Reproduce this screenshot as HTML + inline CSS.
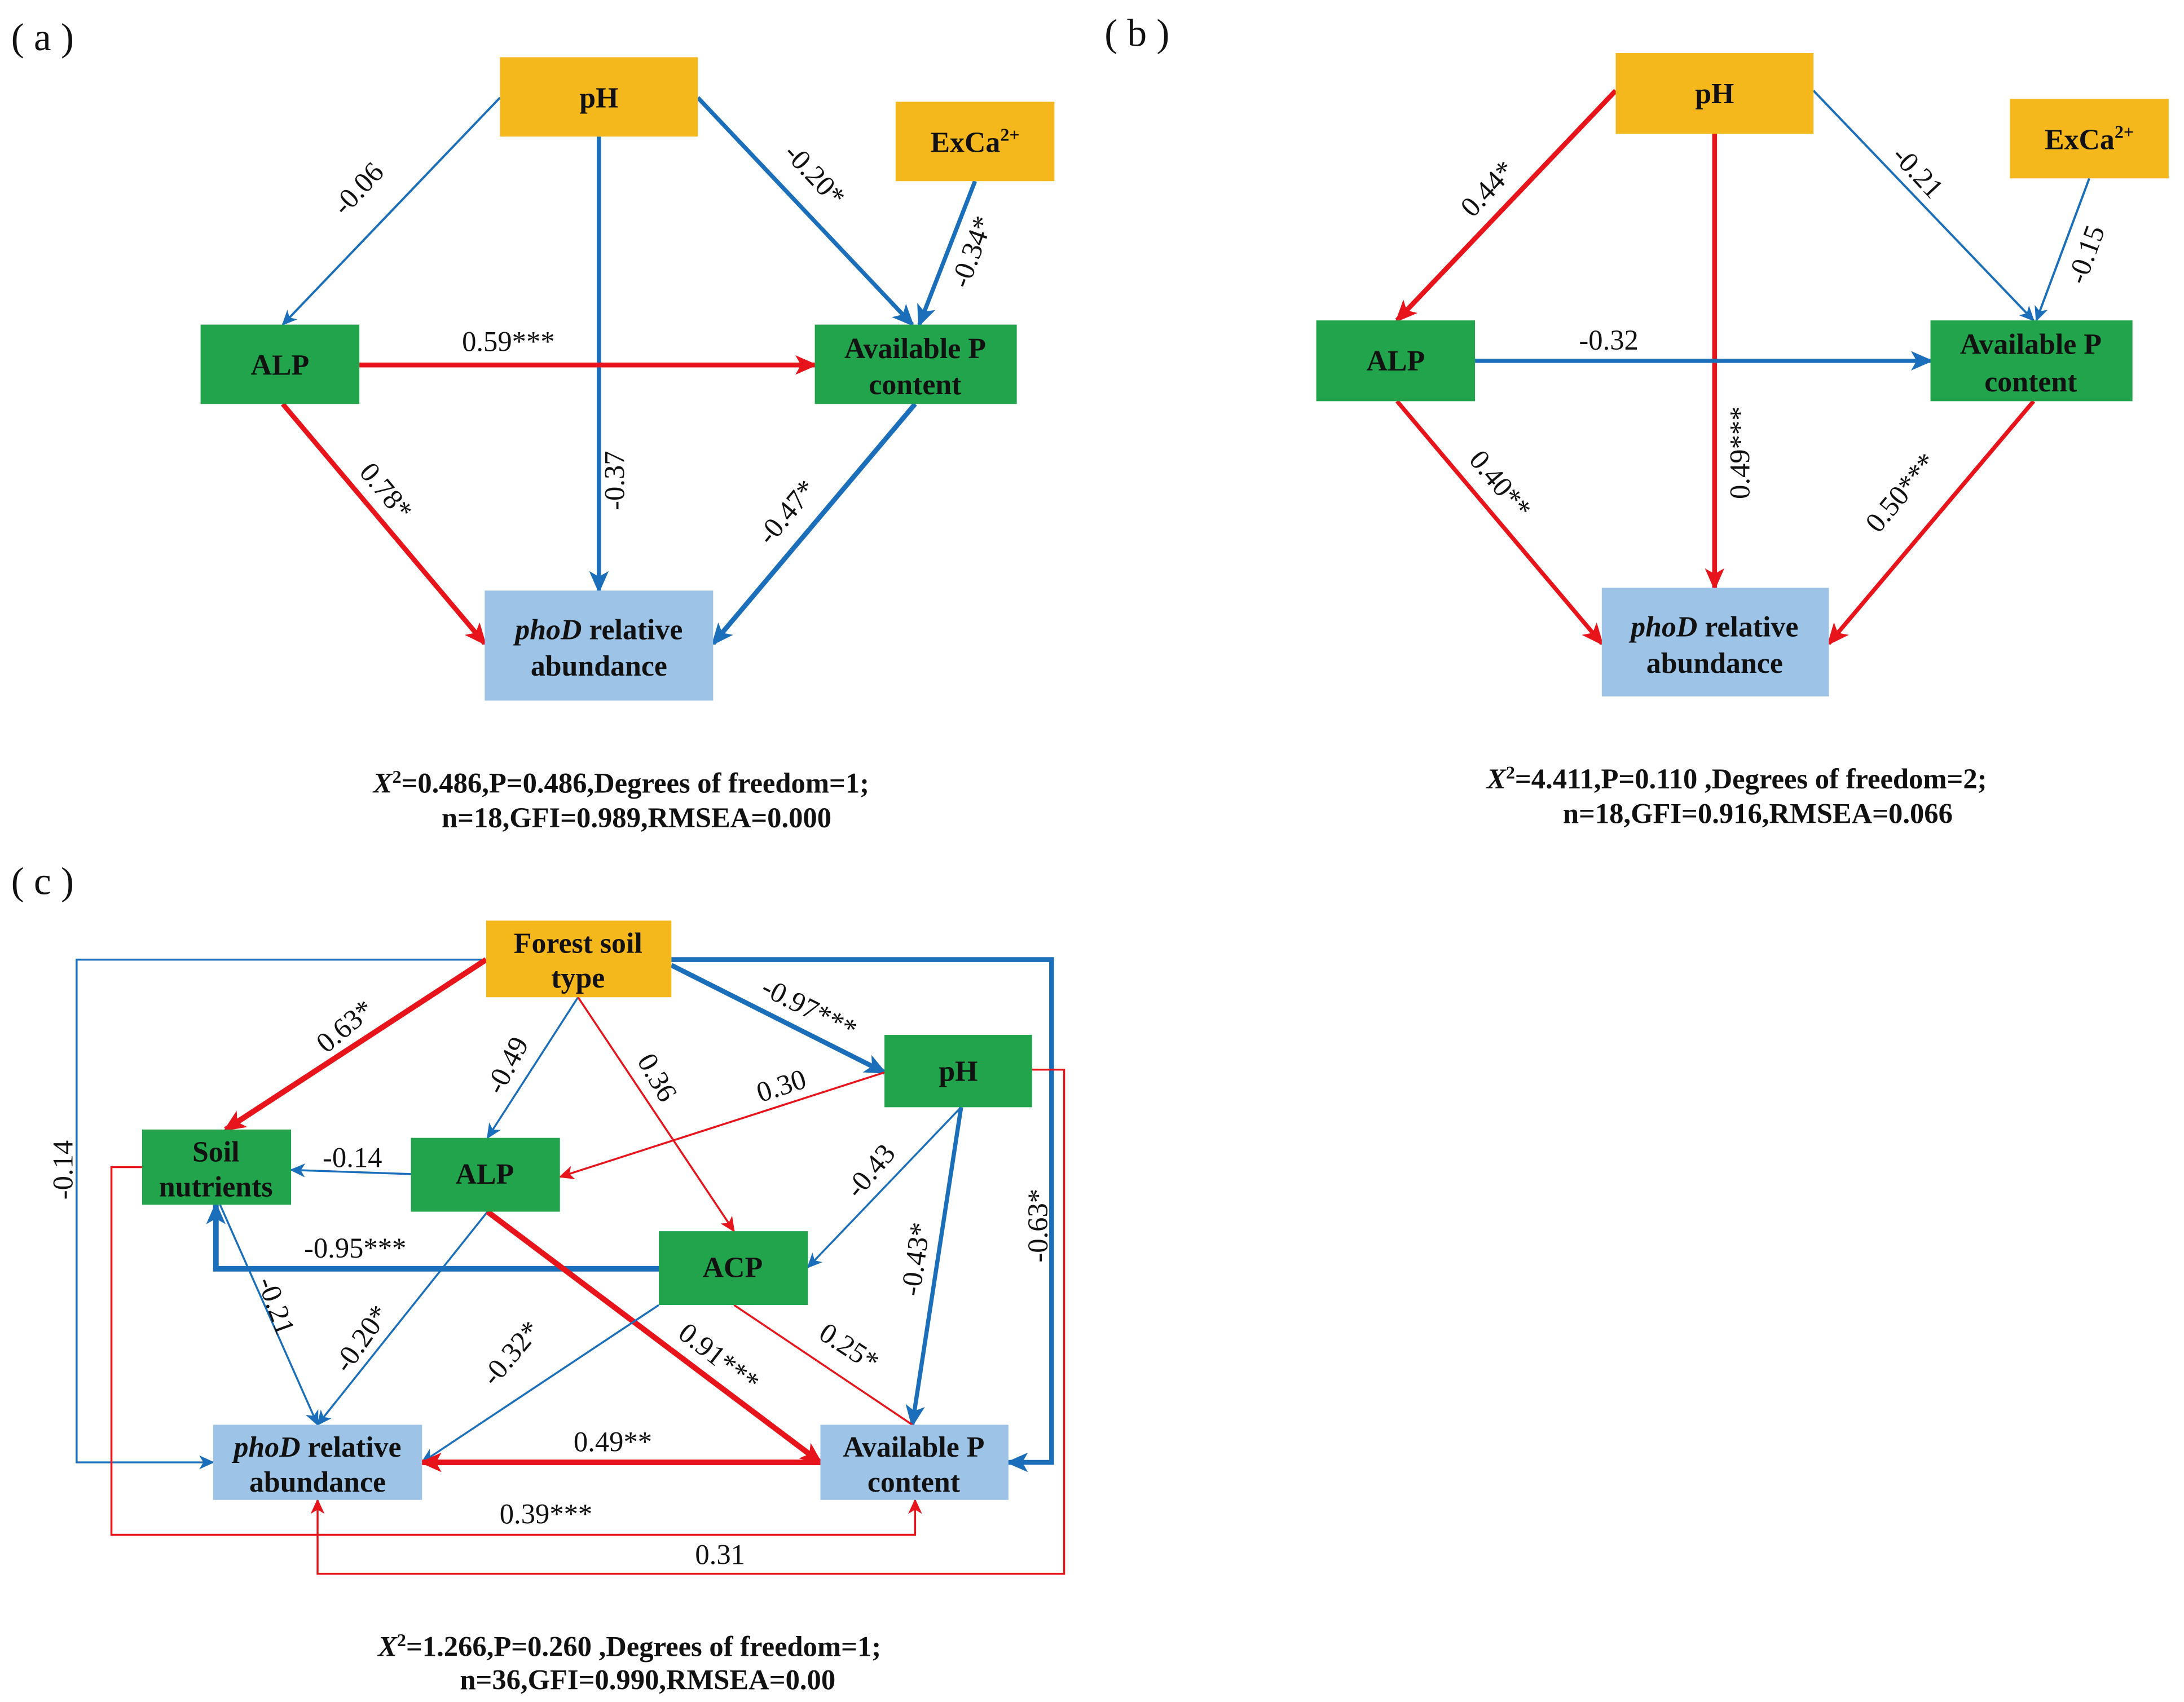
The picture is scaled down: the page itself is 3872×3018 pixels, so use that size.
<!DOCTYPE html>
<html><head><meta charset="utf-8"><style>
html,body{margin:0;padding:0;background:#fff;}
svg{display:block;}
text{font-family:"Liberation Serif","Times New Roman",serif;}
.b{font-weight:bold;font-size:21px;fill:#111;}
.l{font-size:20.5px;fill:#111;}
.s{font-weight:bold;font-size:20.5px;fill:#111;}
.p{font-size:28px;fill:#111;}
</style></head><body>
<svg width="3872" height="3018" viewBox="0 0 1568 1222" xmlns="http://www.w3.org/2000/svg" font-family="Liberation Serif, serif">
<defs>
<marker id="ar" markerUnits="userSpaceOnUse" markerWidth="16" markerHeight="14" refX="14" refY="7" orient="auto"><path d="M0,0 L16,7 L0,14 L4,7 Z" fill="#E8141C"/></marker>
<marker id="ab" markerUnits="userSpaceOnUse" markerWidth="16" markerHeight="14" refX="14" refY="7" orient="auto"><path d="M0,0 L16,7 L0,14 L4,7 Z" fill="#1B6FBA"/></marker>
<marker id="ars" markerUnits="userSpaceOnUse" markerWidth="11" markerHeight="10" refX="10" refY="5" orient="auto"><path d="M0,0 L11,5 L0,10 L3,5 Z" fill="#E8141C"/></marker>
<marker id="abs" markerUnits="userSpaceOnUse" markerWidth="11" markerHeight="10" refX="10" refY="5" orient="auto"><path d="M0,0 L11,5 L0,10 L3,5 Z" fill="#1B6FBA"/></marker>
</defs>
<rect width="1568" height="1222" fill="#fff"/>

<!-- Panel a -->
<text class="p" x="8" y="36">( a )</text>
<g fill="none">
<line x1="359" y1="70" x2="203" y2="233" stroke="#1B6FBA" stroke-width="1.6" marker-end="url(#abs)"/>
<line x1="430" y1="98" x2="430" y2="424" stroke="#1B6FBA" stroke-width="3" marker-end="url(#ab)"/>
<line x1="501" y1="70" x2="655" y2="233" stroke="#1B6FBA" stroke-width="3" marker-end="url(#ab)"/>
<line x1="700" y1="130" x2="660" y2="233" stroke="#1B6FBA" stroke-width="3" marker-end="url(#ab)"/>
<line x1="258" y1="262" x2="585" y2="262" stroke="#E8141C" stroke-width="3.5" marker-end="url(#ar)"/>
<line x1="203" y1="290" x2="348" y2="462" stroke="#E8141C" stroke-width="3.5" marker-end="url(#ar)"/>
<line x1="657" y1="290" x2="512" y2="462" stroke="#1B6FBA" stroke-width="3.5" marker-end="url(#ab)"/>
</g>
<rect x="359" y="41" width="142" height="57" fill="#F4B81C"/><text class="b" x="430" y="77" text-anchor="middle">pH</text>
<rect x="643" y="73" width="114" height="57" fill="#F4B81C"/><text class="b" x="700" y="109" text-anchor="middle">ExCa<tspan font-size="13" dy="-8">2+</tspan></text>
<rect x="144" y="233" width="114" height="57" fill="#21A44B"/><text class="b" x="201" y="269" text-anchor="middle">ALP</text>
<rect x="585" y="233" width="145" height="57" fill="#21A44B"/><text class="b" x="657" y="257" text-anchor="middle">Available P</text><text class="b" x="657" y="283" text-anchor="middle">content</text>
<rect x="348" y="424" width="164" height="79" fill="#9DC3E6"/><text class="b" x="430" y="459" text-anchor="middle"><tspan font-style="italic">phoD</tspan> relative</text><text class="b" x="430" y="485" text-anchor="middle">abundance</text>
<text class="l" transform="translate(262,140) rotate(-47)" text-anchor="middle">-0.06</text>
<text class="l" transform="translate(448,345) rotate(-90)" text-anchor="middle">-0.37</text>
<text class="l" transform="translate(580,130) rotate(47)" text-anchor="middle">-0.20*</text>
<text class="l" transform="translate(704,183) rotate(-70)" text-anchor="middle">-0.34*</text>
<text class="l" x="365" y="252" text-anchor="middle">0.59***</text>
<text class="l" transform="translate(272,357) rotate(50)" text-anchor="middle">0.78*</text>
<text class="l" transform="translate(570,372) rotate(-50)" text-anchor="middle">-0.47*</text>
<text class="s" x="446" y="569" text-anchor="middle"><tspan font-style="italic">X</tspan><tspan font-size="13" dy="-7">2</tspan><tspan dy="7">=0.486,P=0.486,Degrees of freedom=1;</tspan></text>
<text class="s" x="457" y="594" text-anchor="middle">n=18,GFI=0.989,RMSEA=0.000</text>

<!-- Panel b -->
<text class="p" x="793" y="33">( b )</text>
<g fill="none">
<line x1="1160" y1="65" x2="1003" y2="230" stroke="#E8141C" stroke-width="3.5" marker-end="url(#ar)"/>
<line x1="1231" y1="96" x2="1231" y2="422" stroke="#E8141C" stroke-width="3.5" marker-end="url(#ar)"/>
<line x1="1302" y1="65" x2="1460" y2="230" stroke="#1B6FBA" stroke-width="1.6" marker-end="url(#abs)"/>
<line x1="1500" y1="128" x2="1462" y2="230" stroke="#1B6FBA" stroke-width="1.6" marker-end="url(#abs)"/>
<line x1="1059" y1="259" x2="1386" y2="259" stroke="#1B6FBA" stroke-width="3" marker-end="url(#ab)"/>
<line x1="1003" y1="288" x2="1150" y2="462" stroke="#E8141C" stroke-width="3" marker-end="url(#ar)"/>
<line x1="1460" y1="288" x2="1313" y2="462" stroke="#E8141C" stroke-width="3" marker-end="url(#ar)"/>
</g>
<rect x="1160" y="38" width="142" height="58" fill="#F4B81C"/><text class="b" x="1231" y="74" text-anchor="middle">pH</text>
<rect x="1443" y="71" width="114" height="57" fill="#F4B81C"/><text class="b" x="1500" y="107" text-anchor="middle">ExCa<tspan font-size="13" dy="-8">2+</tspan></text>
<rect x="945" y="230" width="114" height="58" fill="#21A44B"/><text class="b" x="1002" y="266" text-anchor="middle">ALP</text>
<rect x="1386" y="230" width="145" height="58" fill="#21A44B"/><text class="b" x="1458" y="254" text-anchor="middle">Available P</text><text class="b" x="1458" y="281" text-anchor="middle">content</text>
<rect x="1150" y="422" width="163" height="78" fill="#9DC3E6"/><text class="b" x="1231" y="457" text-anchor="middle"><tspan font-style="italic">phoD</tspan> relative</text><text class="b" x="1231" y="483" text-anchor="middle">abundance</text>
<text class="l" transform="translate(1073,140) rotate(-47)" text-anchor="middle">0.44*</text>
<text class="l" transform="translate(1256,325) rotate(-90)" text-anchor="middle">0.49***</text>
<text class="l" transform="translate(1372,128) rotate(47)" text-anchor="middle">-0.21</text>
<text class="l" transform="translate(1504,185) rotate(-70)" text-anchor="middle">-0.15</text>
<text class="l" x="1155" y="251" text-anchor="middle">-0.32</text>
<text class="l" transform="translate(1072,352) rotate(50)" text-anchor="middle">0.40**</text>
<text class="l" transform="translate(1370,358) rotate(-50)" text-anchor="middle">0.50***</text>
<text class="s" x="1247" y="566" text-anchor="middle"><tspan font-style="italic">X</tspan><tspan font-size="13" dy="-7">2</tspan><tspan dy="7">=4.411,P=0.110 ,Degrees of freedom=2;</tspan></text>
<text class="s" x="1262" y="591" text-anchor="middle">n=18,GFI=0.916,RMSEA=0.066</text>

<!-- Panel c -->
<text class="p" x="8" y="642">( c )</text>
<g fill="none">
<polyline points="349,689 55,689 55,1050 153,1050" stroke="#1B6FBA" stroke-width="1.4" marker-end="url(#abs)"/>
<line x1="349" y1="689" x2="162" y2="811" stroke="#E8141C" stroke-width="4" marker-end="url(#ar)"/>
<polyline points="482,689 755,689 755,1050 724,1050" stroke="#1B6FBA" stroke-width="3.5" marker-end="url(#ab)"/>
<line x1="482" y1="693" x2="635" y2="770" stroke="#1B6FBA" stroke-width="3.5" marker-end="url(#ab)"/>
<line x1="415" y1="716" x2="350" y2="817" stroke="#1B6FBA" stroke-width="1.4" marker-end="url(#abs)"/>
<line x1="415" y1="716" x2="527" y2="884" stroke="#E8141C" stroke-width="1.4" marker-end="url(#ars)"/>
<line x1="635" y1="770" x2="402" y2="845" stroke="#E8141C" stroke-width="1.4" marker-end="url(#ars)"/>
<polyline points="741,768 764,768 764,1130 228,1130 228,1077" stroke="#E8141C" stroke-width="1.4" marker-end="url(#ars)"/>
<line x1="690" y1="795" x2="580" y2="910" stroke="#1B6FBA" stroke-width="1.4" marker-end="url(#abs)"/>
<line x1="690" y1="795" x2="655" y2="1023" stroke="#1B6FBA" stroke-width="3" marker-end="url(#ab)"/>
<line x1="295" y1="843" x2="209" y2="840" stroke="#1B6FBA" stroke-width="1.4" marker-end="url(#abs)"/>
<polyline points="473,911 155,911 155,865" stroke="#1B6FBA" stroke-width="4" marker-end="url(#ab)"/>
<line x1="158" y1="865" x2="228" y2="1023" stroke="#1B6FBA" stroke-width="1.4" marker-end="url(#abs)"/>
<line x1="350" y1="870" x2="228" y2="1023" stroke="#1B6FBA" stroke-width="1.4" marker-end="url(#abs)"/>
<line x1="350" y1="870" x2="589" y2="1050" stroke="#E8141C" stroke-width="4" marker-end="url(#ar)"/>
<line x1="473" y1="937" x2="303" y2="1050" stroke="#1B6FBA" stroke-width="1.4" marker-end="url(#abs)"/>
<line x1="527" y1="937" x2="655" y2="1023" stroke="#E8141C" stroke-width="1.4"/>
<line x1="589" y1="1050" x2="303" y2="1050" stroke="#E8141C" stroke-width="4" marker-end="url(#ar)"/>
<polyline points="102,838 80,838 80,1102 657,1102 657,1077" stroke="#E8141C" stroke-width="1.4" marker-end="url(#ars)"/>
</g>
<rect x="349" y="661" width="133" height="55" fill="#F4B81C"/><text class="b" x="415" y="684" text-anchor="middle" font-size="19">Forest soil</text><text class="b" x="415" y="709" text-anchor="middle" font-size="19">type</text>
<rect x="635" y="743" width="106" height="52" fill="#21A44B"/><text class="b" x="688" y="776" text-anchor="middle">pH</text>
<rect x="102" y="811" width="107" height="54" fill="#21A44B"/><text class="b" x="155" y="834" text-anchor="middle" font-size="19">Soil</text><text class="b" x="155" y="859" text-anchor="middle" font-size="19">nutrients</text>
<rect x="295" y="817" width="107" height="53" fill="#21A44B"/><text class="b" x="348" y="850" text-anchor="middle">ALP</text>
<rect x="473" y="884" width="107" height="53" fill="#21A44B"/><text class="b" x="526" y="917" text-anchor="middle">ACP</text>
<rect x="153" y="1023" width="150" height="54" fill="#9DC3E6"/><text class="b" x="228" y="1046" text-anchor="middle" font-size="19"><tspan font-style="italic">phoD</tspan> relative</text><text class="b" x="228" y="1071" text-anchor="middle" font-size="19">abundance</text>
<rect x="589" y="1023" width="135" height="54" fill="#9DC3E6"/><text class="b" x="656" y="1046" text-anchor="middle" font-size="19">Available P</text><text class="b" x="656" y="1071" text-anchor="middle" font-size="19">content</text>
<text class="l" transform="translate(52,840) rotate(-90)" text-anchor="middle">-0.14</text>
<text class="l" transform="translate(252,742) rotate(-40)" text-anchor="middle">0.63*</text>
<text class="l" transform="translate(752,880) rotate(-90)" text-anchor="middle">-0.63*</text>
<text class="l" transform="translate(578,730) rotate(27)" text-anchor="middle">-0.97***</text>
<text class="l" transform="translate(370,768) rotate(-62)" text-anchor="middle">-0.49</text>
<text class="l" transform="translate(466,777) rotate(60)" text-anchor="middle">0.36</text>
<text class="l" transform="translate(563,786) rotate(-18)" text-anchor="middle">0.30</text>
<text class="l" transform="translate(630,845) rotate(-50)" text-anchor="middle">-0.43</text>
<text class="l" transform="translate(664,905) rotate(-82)" text-anchor="middle">-0.43*</text>
<text class="l" x="253" y="838" text-anchor="middle">-0.14</text>
<text class="l" x="255" y="903" text-anchor="middle">-0.95***</text>
<text class="l" transform="translate(192,940) rotate(70)" text-anchor="middle">-0.21</text>
<text class="l" transform="translate(265,965) rotate(-55)" text-anchor="middle">-0.20*</text>
<text class="l" transform="translate(512,980) rotate(38)" text-anchor="middle">0.91***</text>
<text class="l" transform="translate(372,976) rotate(-50)" text-anchor="middle">-0.32*</text>
<text class="l" transform="translate(606,973) rotate(33)" text-anchor="middle">0.25*</text>
<text class="l" x="440" y="1042" text-anchor="middle">0.49**</text>
<text class="l" x="392" y="1094" text-anchor="middle">0.39***</text>
<text class="l" x="517" y="1123" text-anchor="middle">0.31</text>
<text class="s" x="452" y="1189" text-anchor="middle"><tspan font-style="italic">X</tspan><tspan font-size="13" dy="-7">2</tspan><tspan dy="7">=1.266,P=0.260 ,Degrees of freedom=1;</tspan></text>
<text class="s" x="465" y="1213" text-anchor="middle">n=36,GFI=0.990,RMSEA=0.00</text>
</svg>
</body></html>
